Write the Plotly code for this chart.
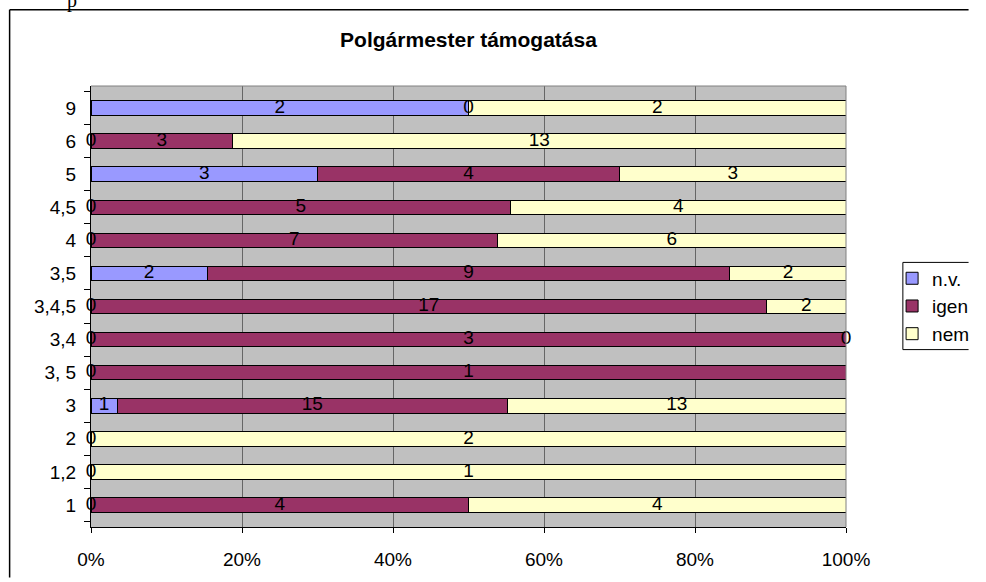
import plotly.graph_objects as go

categories = ["1", "1,2", "2", "3", "3, 5", "3,4", "3,4,5", "3,5", "4", "4,5", "5", "6", "9"]
nv =   [0, 0, 0, 1, 0, 0, 0, 2, 0, 0, 3, 0, 2]
igen = [4, None, None, 15, 1, 3, 17, 9, 7, 5, 4, 3, 0]
nem =  [4, 1, 2, 13, None, 0, 2, 2, 6, 4, 3, 13, 2]
series_names = ["n.v.", "igen", "nem"]
series_vals = [nv, igen, nem]
colors = ["#9999FF", "#993366", "#FFFFCC"]
x_ticks = [0, 20, 40, 60, 80, 100]
x_ticktext = ["0%", "20%", "40%", "60%", "80%", "100%"]

FONT = "Liberation Sans, Arial, sans-serif"
FS = 19

totals = [sum(v for v in col if v is not None) for col in zip(*series_vals)]
fig = go.Figure()
for name, vals, col in zip(series_names, series_vals, colors):
    pct = [(v / t * 100) if v is not None else None for v, t in zip(vals, totals)]
    fig.add_trace(go.Bar(
        y=categories, x=pct, name=name, orientation="h",
        marker=dict(color=col, line=dict(color="#000000", width=1)),
        textposition="none", hoverinfo="skip"))

# data labels
lx, ly, lt = [], [], []
for i, cat in enumerate(categories):
    cum = 0.0
    for vals in series_vals:
        v = vals[i]
        if v is None:
            continue
        p = v / totals[i] * 100
        lx.append(cum + p / 2)
        ly.append(cat)
        lt.append(str(v))
        cum += p
fig.add_trace(go.Scatter(x=lx, y=ly, text=lt, mode="text", showlegend=False,
                         textfont=dict(family=FONT, size=FS, color="#000000"),
                         hoverinfo="skip", cliponaxis=False))

W, H = 986, 582
L, R, T, B = 91, 861, 86, 531
pw, ph = R - L, B - T

def px(x):
    return (x - L) / pw

def py(y):
    return (B - y) / ph

def line(x0, y0, x1, y1, color="#000000", width=1):
    return dict(type="line", xref="paper", yref="paper",
                x0=px(x0), y0=py(y0), x1=px(x1), y1=py(y1),
                line=dict(color=color, width=width), layer="below")

fig.update_layout(
    width=W, height=H,
    margin=dict(l=L, r=W - R, t=T, b=H - B),
    barmode="stack", bargap=0.56,
    paper_bgcolor="#FFFFFF", plot_bgcolor="#C0C0C0",
    font=dict(family=FONT, size=FS, color="#000000"),
    title=dict(text="<b>Polgármester támogatása</b>", x=0.5, xref="paper",
               y=1 - 40 / H, yanchor="middle",
               font=dict(family=FONT, size=21, color="#000000")),
    showlegend=True,
    legend=dict(x=px(908), y=py(261), xanchor="left", yanchor="top",
                borderwidth=0, bgcolor="rgba(0,0,0,0)",
                traceorder="normal", itemwidth=30,
                font=dict(family=FONT, size=FS)),
    xaxis=dict(range=[0, 100], tickvals=x_ticks, ticktext=x_ticktext,
               showgrid=True, gridcolor="#666666", gridwidth=1,
               showline=True, linecolor="#000000", linewidth=1,
               ticks="outside", ticklen=5, tickcolor="#000000",
               zeroline=False, fixedrange=True, ticklabelstandoff=10),
    yaxis=dict(categoryorder="array", categoryarray=categories,
               showline=True, linecolor="#000000", linewidth=1,
               ticks="outside", ticklen=6, tickcolor="#000000",
               tickson="boundaries", showgrid=False, fixedrange=True,
               ticklabelstandoff=10),
    shapes=[
        # outer chart border (right and bottom lie outside the picture)
        line(8, 9, 986, 9, width=1.5),
        line(8, 9, 8, 582, width=1.5),
        # legend box (right side lies outside the picture)
        dict(type="rect", xref="paper", yref="paper",
             x0=px(919), x1=px(986), y0=py(352), y1=py(264),
             line=dict(width=0), fillcolor="#FFFFFF", layer="below"),
        line(919, 264, 986, 264),
        line(919, 352, 986, 352),
        line(919, 264, 919, 352),
        # plot area border
        dict(type="line", xref="paper", yref="paper", x0=0, x1=1, y0=1, y1=1,
             line=dict(color="#808080", width=1)),
        dict(type="line", xref="paper", yref="paper", x0=1, x1=1, y0=0, y1=1,
             line=dict(color="#808080", width=1)),
    ],
    annotations=[
        dict(text="p", xref="paper", yref="paper", x=px(72), y=py(0),
             xanchor="center", yanchor="middle", showarrow=False,
             font=dict(family="Liberation Serif, serif", size=20, color="#000000")),
    ],
)

fig.write_html("out.html", config={"displayModeBar": False},
               post_script="document.body.style.margin='0';document.body.style.overflow='hidden';")
